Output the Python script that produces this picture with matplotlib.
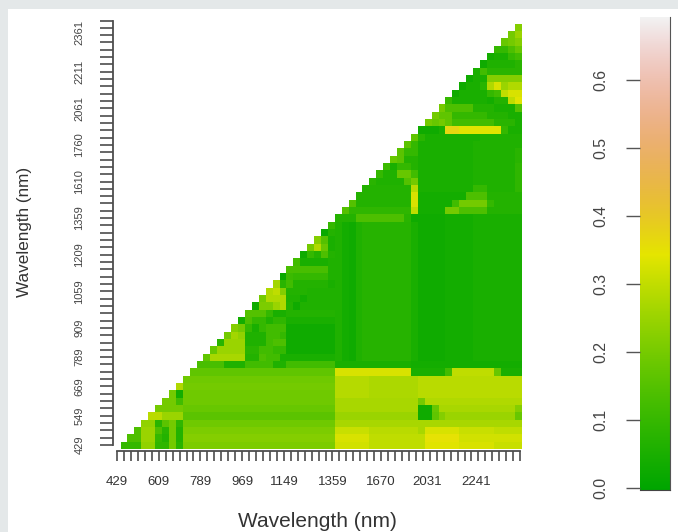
import colorsys
import numpy as np
import matplotlib
matplotlib.use("Agg")
import matplotlib.pyplot as plt
from matplotlib.colors import ListedColormap
from matplotlib.patches import Rectangle

plt.rcParams['font.family'] = ['Liberation Sans', 'DejaVu Sans']

W, H = 678, 532
N = 58
V_MAX = 0.693

x_labels = ['429', '609', '789', '969', '1149', '1359', '1670', '2031', '2241']
x_label_ticks = [0, 6, 12, 18, 24, 31, 38, 44.6, 51.6]
y_labels = ['429', '549', '669', '789', '909', '1059', '1209', '1359', '1610', '1760', '2061', '2211', '2361']
y_label_ticks = [0, 4, 8, 12, 16, 21, 26, 31, 36, 41, 46, 51, 56.3]
bar_ticks = [0.0, 0.1, 0.2, 0.3, 0.4, 0.5, 0.6]

# (column where the run ends, value) for every row, bottom row first
tail_band = [(36, .285), (43, .275), (58, .29)]
tail_block = [(32, .06), (33, .04), (34, .03), (35, .06), (42, .075), (43, .05), (47, .03), (51, .04), (58, .05)]

rows = [
    [(3, .10), (5, .24), (7, .09), (8, .20), (9, .08), (31, .21), (36, .32), (43, .30), (44, .30), (49, .34), (54, .33), (58, .31)],
    [(3, .14), (5, .25), (6, .10), (7, .07), (8, .20), (9, .07), (31, .22), (36, .33), (43, .30), (44, .30), (49, .35), (58, .32)],
    [(3, .14), (5, .25), (6, .14), (7, .08), (8, .20), (9, .07), (31, .21), (36, .31), (43, .29), (44, .27), (49, .33), (54, .31), (58, .30)],
    [(5, .24), (6, .08), (7, .16), (8, .20), (9, .09), (31, .19), (43, .27), (58, .27)],
    [(6, .29), (9, .25), (31, .16), (43, .25), (45, .03), (46, .17), (47, .22), (57, .25), (58, .18)],
    [(9, .20), (31, .18), (43, .27), (45, .03), (46, .18), (57, .27), (58, .22)],
    [(8, .20), (9, .12), (31, .19), (43, .27), (44, .20), (58, .28)],
    [(8, .20), (9, .04), (31, .19)] + tail_band,
    [(9, .28), (31, .20)] + tail_band,
    [(31, .19)] + tail_band,
    [(31, .17), (42, .33), (47, .05), (48, .12), (54, .30), (55, .18), (58, .05)],
    [(15, .13), (18, .06), (22, .12), (24, .06), (31, .12), (42, .05), (58, .04)],
    [(13, .17), (18, .27), (19, .07), (20, .07), (21, .14), (23, .12), (31, .05)] + tail_block,
    [(14, .18), (18, .25), (20, .08), (22, .12), (24, .10), (31, .03)] + tail_block,
    [(15, .08), (18, .25), (21, .06), (22, .12), (24, .14), (31, .03)] + tail_block,
    [(16, .20), (17, .26), (18, .24), (21, .06), (23, .12), (24, .10), (31, .03)] + tail_block,
    [(17, .22), (18, .20), (19, .10), (20, .05), (21, .10), (24, .12), (31, .03)] + tail_block,
    [(18, .04), (19, .14), (21, .10), (22, .06), (24, .09), (31, .05)] + tail_block,
    [(21, .15), (22, .10), (24, .05), (31, .07)] + tail_block,
    [(20, .03), (22, .21), (23, .25), (24, .28), (25, .07), (26, .03), (31, .06)] + tail_block,
    [(21, .20), (24, .28), (26, .06), (27, .04), (31, .06)] + tail_block,
    [(22, .28), (23, .30), (24, .22), (27, .07), (31, .06)] + tail_block,
    [(23, .26), (24, .08), (25, .12), (30, .07), (31, .05)] + tail_block,
    [(24, .02), (25, .11), (30, .10), (31, .06)] + tail_block,
    [(30, .13), (31, .06)] + tail_block,
    [(26, .12), (30, .05), (31, .06)] + tail_block,
    [(27, .03), (28, .10), (29, .07), (30, .14), (31, .07)] + tail_block,
    [(28, .20), (29, .28), (30, .18), (31, .05)] + tail_block,
    [(29, .22), (30, .15), (31, .05)] + tail_block,
    [(30, .02), (31, .07)] + tail_block,
    [(31, .10)] + tail_block,
    [(34, .07), (41, .14), (42, .08), (47, .03), (51, .04), (58, .05)],
    [(33, .15), (42, .09), (43, .30), (47, .04), (49, .20), (53, .14), (58, .07)],
    [(34, .15), (42, .07), (43, .33), (48, .04), (49, .12), (53, .20), (54, .10), (58, .07)],
    [(42, .07), (43, .33), (50, .04), (53, .14), (58, .07)],
    [(42, .07), (43, .29), (51, .05), (53, .10), (57, .06), (58, .09)],
    [(37, .08), (41, .06), (42, .15), (43, .20), (51, .05), (57, .06), (58, .09)],
    [(38, .10), (40, .06), (42, .18), (43, .12), (51, .05), (57, .06), (58, .09)],
    [(39, .11), (40, .05), (42, .10), (43, .07), (51, .05), (57, .06), (58, .09)],
    [(40, .18), (41, .16), (43, .07), (51, .05), (57, .06), (58, .08)],
    [(41, .16), (43, .10), (51, .05), (57, .06), (58, .08)],
    [(42, .16), (43, .10), (51, .05), (58, .06)],
    [(43, .17), (44, .08), (52, .05), (58, .06)],
    [(46, .03), (47, .05), (49, .37), (55, .34), (56, .10), (58, .05)],
    [(45, .20), (46, .18), (47, .20), (48, .17), (54, .12), (57, .08), (58, .05)],
    [(46, .20), (48, .17), (53, .10), (56, .07), (58, .05)],
    [(47, .20), (51, .14), (54, .07), (57, .05), (58, .15)],
    [(48, .10), (53, .05), (54, .04), (56, .07), (57, .30), (58, .34)],
    [(49, .03), (53, .05), (54, .10), (55, .12), (56, .30), (58, .33)],
    [(50, .03), (52, .05), (53, .08), (54, .28), (55, .33), (56, .25), (58, .28)],
    [(51, .03), (53, .05), (58, .22)],
    [(52, .05), (53, .12), (58, .08)],
    [(53, .03), (57, .06), (58, .08)],
    [(54, .04), (56, .05), (57, .10), (58, .12)],
    [(56, .10), (57, .14), (58, .18)],
    [(56, .18), (57, .20), (58, .22)],
    [(57, .20), (58, .25)],
    [(58, .22)],
]

matrix = np.full((N, N), np.nan)
for r, runs in enumerate(rows):
    start = r
    for end, value in runs:
        matrix[r, start:end] = value
        start = end


def terrain_colors(n=256):
    k = n // 2
    out = []
    for t in np.linspace(0, 1, k):
        out.append(colorsys.hsv_to_rgb(4/12 + (2/12 - 4/12) * t, 1, .65 + .25 * t))
    for t in np.linspace(0, 1, n - k + 1)[1:]:
        out.append(colorsys.hsv_to_rgb(2/12 * (1 - t), 1 - t, .9 + .05 * t))
    return ListedColormap(out)


cmap = terrain_colors()
cmap.set_bad((1, 1, 1, 0))


def axes_px(fig, x0, y0, x1, y1):
    """Axes from pixel box with y measured from the top of the figure."""
    return fig.add_axes([x0 / W, 1 - y1 / H, (x1 - x0) / W, (y1 - y0) / H])


fig = plt.figure(figsize=(W / 100, H / 100), dpi=100, facecolor='#E4E8E9')
fig.add_artist(Rectangle((8 / W, 0), 1, 1 - 9 / H, transform=fig.transFigure,
                         facecolor='white', edgecolor='none', zorder=-5))

# heat map axes: box runs from the axis lines to the far cell edges
cell_x0, cell_x1, cell_y0, cell_y1 = 120.5, 521.5, 23.0, 449.0
cw = (cell_x1 - cell_x0) / N
ch = (cell_y1 - cell_y0) / N
box_l, box_r, box_t, box_b = 113.0, 521.5, 20.5, 451.0
ax = axes_px(fig, box_l, box_t, box_r, box_b)
ax.patch.set_alpha(0)
ax.set_xlim((box_l - cell_x0) / cw, N)
ax.set_ylim((cell_y1 - box_b) / ch, (cell_y1 - box_t) / ch)
ax.pcolormesh(np.arange(N + 1), np.arange(N + 1), matrix, cmap=cmap, vmin=0, vmax=V_MAX,
              edgecolors='none', antialiased=False)

tick_x0, tick_dx = -0.5, 58.3 / 58
tick_y0, tick_dy = 0.55, 57.9 / 58
x_ticks = tick_x0 + np.arange(N + 1) * tick_dx
y_ticks = tick_y0 + np.arange(N + 1) * tick_dy
ax.xaxis.remove_overlapping_locs = False
ax.yaxis.remove_overlapping_locs = False
ax.set_xticks(x_ticks, minor=True)
ax.set_yticks(y_ticks, minor=True)
ax.set_xticks(tick_x0 + np.array(x_label_ticks) * tick_dx, x_labels)
ax.set_yticks(tick_y0 + np.array(y_label_ticks) * tick_dy, y_labels)
ax.tick_params(axis='x', which='minor', length=7.2, width=1.2, color='#4d4d4d')
ax.tick_params(axis='y', which='minor', length=9.4, width=1.2, color='#4d4d4d')
ax.tick_params(axis='x', which='major', length=0, pad=17.7, labelsize=9.5, labelcolor='#333333')
ax.tick_params(axis='y', which='major', length=0, pad=20.5, labelsize=8, labelcolor='#444444')
plt.setp(ax.get_yticklabels(), rotation=90, va='center')
for name in ('top', 'right'):
    ax.spines[name].set_visible(False)
ax.spines['left'].set_bounds(y_ticks[0], y_ticks[-1])
ax.spines['bottom'].set_bounds(x_ticks[0], x_ticks[-1])
for name in ('left', 'bottom'):
    ax.spines[name].set_color('#4d4d4d')
    ax.spines[name].set_linewidth(1.3)

fig.text(317 / W, 1 - 521.5 / H, 'Wavelength (nm)', ha='center', va='center', fontsize=15, color='#333333')
fig.text(25 / W, 1 - 232 / H, 'Wavelength (nm)', ha='center', va='center', rotation=90, fontsize=12.3, color='#333333')

# colour bar
cax = axes_px(fig, 639.5, 17, 669.5, 490)
cax.imshow(np.linspace(0, V_MAX, 256)[:, None], origin='lower', aspect='auto', cmap=cmap,
           vmin=0, vmax=V_MAX, extent=[0, 1, -0.003, V_MAX])
cax.set_xticks([])
cax.set_yticks(bar_ticks, [f'{t:.1f}' for t in bar_ticks])
cax.tick_params(axis='y', length=10, width=1.0, color='#555555', pad=12.2, labelsize=11.4, labelcolor='#444444')
plt.setp(cax.get_yticklabels(), rotation=90, va='center')
cax.spines['top'].set_visible(False)
cax.spines['left'].set_visible(False)
cax.spines['right'].set_color('#555555')
cax.spines['bottom'].set_color('#444444')

fig.savefig('out.png', dpi=100, facecolor=fig.get_facecolor())
